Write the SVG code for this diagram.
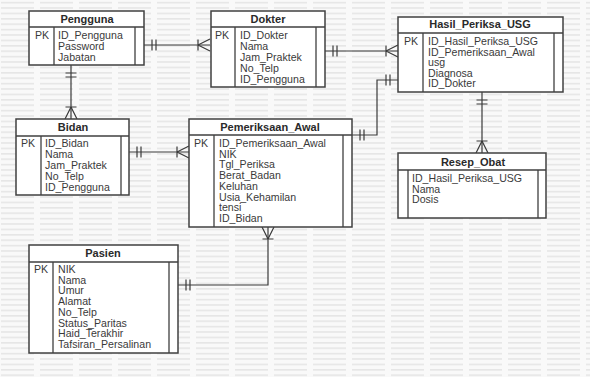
<svg xmlns="http://www.w3.org/2000/svg" width="590" height="377" viewBox="0 0 590 377">
<defs>
<pattern id="wm" width="39" height="5.4" patternUnits="userSpaceOnUse">
<rect width="39" height="5.4" fill="#f9f9f9"/>
<rect x="1" y="1.8" width="33" height="1.6" fill="#e6e6e6"/>
</pattern>
<marker id="one" viewBox="-16 -8 18 16" refX="0" refY="0" markerWidth="18" markerHeight="16" markerUnits="userSpaceOnUse" orient="auto-start-reverse">
<path d="M-8,-5.5V5.5M-12,-5.5V5.5" stroke="#3a3a3a" stroke-width="1.2" fill="none"/>
</marker>
<marker id="many" viewBox="-16 -8 18 16" refX="0" refY="0" markerWidth="18" markerHeight="16" markerUnits="userSpaceOnUse" orient="auto-start-reverse">
<path d="M-12,-5.5V5.5M-12,0L0,-6M-12,0L0,6" stroke="#3a3a3a" stroke-width="1.2" fill="none"/>
</marker>
</defs>
<style>
.box{fill:#fff;stroke:#404040;stroke-width:1.5}
.ln{stroke:#404040;stroke-width:1.3;fill:none}
.t{font-family:"Liberation Sans",Arial,sans-serif;font-size:10.6px;fill:#3a3a3a}
.h{font-family:"Liberation Sans",Arial,sans-serif;font-size:11px;font-weight:bold;fill:#2a2a2a;text-anchor:middle}
.c{stroke:#3a3a3a;stroke-width:1.2;fill:none}
</style>
<rect width="590" height="377" fill="url(#wm)"/>

<g id="connectors">
<path class="c" d="M144,45H210" marker-start="url(#one)" marker-end="url(#many)"/>
<path class="c" d="M71,65V119" marker-start="url(#one)" marker-end="url(#many)"/>
<path class="c" d="M325,51H398" marker-start="url(#one)" marker-end="url(#many)"/>
<path class="c" d="M352,135H377V80H398" marker-start="url(#one)" marker-end="url(#one)"/>
<path class="c" d="M482,92V153" marker-start="url(#one)" marker-end="url(#many)"/>
<path class="c" d="M129,152H189" marker-start="url(#one)" marker-end="url(#many)"/>
<path class="c" d="M268,227V285H178" marker-start="url(#many)" marker-end="url(#one)"/>
</g>

<g id="Pengguna">
<rect class="box" x="29" y="11" width="115" height="54"/>
<path class="ln" d="M29,27H144M54,27V65M135,27V65"/>
<text class="h" x="87" y="23">Pengguna</text>
<text class="t" x="35" y="39">PK</text>
<text class="t" x="58" y="39">ID_Pengguna</text>
<text class="t" x="58" y="50">Password</text>
<text class="t" x="58" y="61">Jabatan</text>
</g>

<g id="Dokter">
<rect class="box" x="211" y="11" width="114" height="76"/>
<path class="ln" d="M211,27H325M235,27V87M316,27V87"/>
<text class="h" x="268" y="23">Dokter</text>
<text class="t" x="215" y="39">PK</text>
<text class="t" x="240" y="39">ID_Dokter</text>
<text class="t" x="240" y="50">Nama</text>
<text class="t" x="240" y="61">Jam_Praktek</text>
<text class="t" x="240" y="72">No_Telp</text>
<text class="t" x="240" y="83">ID_Pengguna</text>
</g>

<g id="Hasil_Periksa_USG">
<rect class="box" x="398" y="17" width="165" height="75"/>
<path class="ln" d="M398,33H563M423,33V92M554,33V92"/>
<text class="h" x="480" y="28">Hasil_Periksa_USG</text>
<text class="t" x="404" y="45">PK</text>
<text class="t" x="428" y="45">ID_Hasil_Periksa_USG</text>
<text class="t" x="428" y="55.5">ID_Pemeriksaan_Awal</text>
<text class="t" x="428" y="66">usg</text>
<text class="t" x="428" y="76.5">Diagnosa</text>
<text class="t" x="428" y="87">ID_Dokter</text>
</g>

<g id="Resep_Obat">
<rect class="box" x="398" y="153" width="148" height="65"/>
<path class="ln" d="M398,170H546M408,170V218M538,170V218"/>
<text class="h" x="473" y="166">Resep_Obat</text>
<text class="t" x="412" y="182">ID_Hasil_Periksa_USG</text>
<text class="t" x="412" y="192.5">Nama</text>
<text class="t" x="412" y="203">Dosis</text>
</g>

<g id="Bidan">
<rect class="box" x="16" y="119" width="113" height="76"/>
<path class="ln" d="M16,136H129M41,136V195M121,136V195"/>
<text class="h" x="73" y="131">Bidan</text>
<text class="t" x="21" y="147">PK</text>
<text class="t" x="45" y="147">ID_Bidan</text>
<text class="t" x="45" y="158">Nama</text>
<text class="t" x="45" y="169">Jam_Praktek</text>
<text class="t" x="45" y="180">No_Telp</text>
<text class="t" x="45" y="191">ID_Pengguna</text>
</g>

<g id="Pemeriksaan_Awal">
<rect class="box" x="189" y="119" width="163" height="108"/>
<path class="ln" d="M189,135H352M214,135V227M343,135V227"/>
<text class="h" x="270" y="131">Pemeriksaan_Awal</text>
<text class="t" x="194" y="147">PK</text>
<text class="t" x="219" y="147">ID_Pemeriksaan_Awal</text>
<text class="t" x="219" y="157.7">NIK</text>
<text class="t" x="219" y="168.4">Tgl_Periksa</text>
<text class="t" x="219" y="179.1">Berat_Badan</text>
<text class="t" x="219" y="189.8">Keluhan</text>
<text class="t" x="219" y="200.5">Usia_Kehamilan</text>
<text class="t" x="219" y="211.2">tensi</text>
<text class="t" x="219" y="222">ID_Bidan</text>
</g>

<g id="Pasien">
<rect class="box" x="29" y="245" width="149" height="108"/>
<path class="ln" d="M29,262H178M53,262V353M169,262V353"/>
<text class="h" x="103" y="257">Pasien</text>
<text class="t" x="34" y="273">PK</text>
<text class="t" x="58" y="273">NIK</text>
<text class="t" x="58" y="283.7">Nama</text>
<text class="t" x="58" y="294.4">Umur</text>
<text class="t" x="58" y="305.1">Alamat</text>
<text class="t" x="58" y="315.8">No_Telp</text>
<text class="t" x="58" y="326.5">Status_Paritas</text>
<text class="t" x="58" y="337.2">Haid_Terakhir</text>
<text class="t" x="58" y="348">Tafsiran_Persalinan</text>
</g>
</svg>
